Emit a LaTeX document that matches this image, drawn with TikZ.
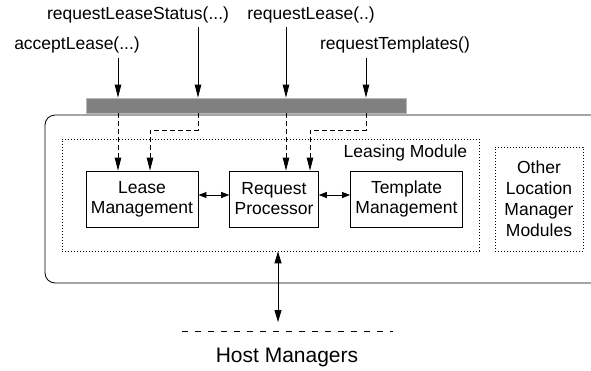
\documentclass[tikz,border=0pt]{standalone}
\usepackage{fontspec}
\setmainfont{Liberation Sans}
\usetikzlibrary{arrows.meta}

\begin{document}
\begin{tikzpicture}[x=1pt, y=-1pt, line width=0.8pt,
    font=\fontsize{17.5}{20}\selectfont,
    unit/.style={draw, align=center, inner xsep=5pt, minimum height=56pt},
    dotbox/.style={draw, line width=0.7pt, dash pattern=on 0.8pt off 2.2pt},
    call/.style={-{Triangle[length=13pt,width=6.5pt]}},
    callin/.style={dash pattern=on 5pt off 3pt, -{Triangle[length=13pt,width=6.5pt]}},
    link/.style={{Triangle[length=8pt,width=6pt]}-{Triangle[length=8pt,width=6pt]}}]
        \useasboundingbox (0,0) rectangle (591,370);

        % interface calls
        \node (c1) at (77,45) {acceptLease(...)};
        \node (c2) at (138,15) {requestLeaseStatus(...)};
        \node (c3) at (311,15) {requestLease(..)};
        \node (c4) at (395,45) {requestTemplates()};
        \node[draw=gray!55, fill=gray, minimum width=320pt, minimum height=15pt, inner sep=0pt] (bar) at (246,105.5) {};

        % location manager
        \draw[rounded corners=10pt] (591,115) -- (45,115) -- (45,283) -- (591,283);
        \node[dotbox, minimum width=417pt, minimum height=112pt] (lmod) at (270.5,195) {};
        \node[anchor=east] (lmlabel) at (471,153) {Leasing Module};
        \node[unit] (lm) at (142,199) {Lease\\Management};
        \node[unit] (rp) at (274,199) {Request\\Processor};
        \node[unit] (tm) at (406.5,199) {Template\\Management};
        \node[dotbox, align=center, minimum width=88pt, minimum height=104pt, font=\fontsize{17.5}{21}\selectfont] (other) at (539,199) {Other\\Location\\Manager\\Modules};

        \foreach \i/\x/\y in {1/118/58, 2/198/27, 3/286/27, 4/366/58}{
            \coordinate (in\i) at (\x,\y);
            \path[draw, call] (in\i) -- (in\i |- bar.north);
        }
        \path[draw, callin] (in1 |- bar.south) -- (in1 |- lm.north);
        \path[draw, callin] (in2 |- bar.south) -- (in2 |- 0,130) -| ([xshift=8pt]lm.north);
        \path[draw, callin] (in3 |- bar.south) -- (in3 |- rp.north);
        \path[draw, callin] (in4 |- bar.south) -- (in4 |- 0,130) -| ([xshift=36pt]rp.north);
        \path[draw, link] ([yshift=4pt]lm.east) -- ([yshift=4pt]rp.west);
        \path[draw, link] ([yshift=4pt]rp.east) -- ([yshift=4pt]tm.west);

        % host managers
        \draw[line width=0.6pt, dash pattern=on 6pt off 7pt] (182,331) -- (393,331);
        \node[font=\fontsize{21}{25}\selectfont] (hosts) at (287,357) {Host Managers};
        \coordinate (hm) at (278,322);
        \path[draw, {Triangle[length=12pt,width=7pt]}-{Triangle[length=12pt,width=7pt]}] (hm |- lmod.south) -- (hm);
    \end{tikzpicture}
\end{document}
